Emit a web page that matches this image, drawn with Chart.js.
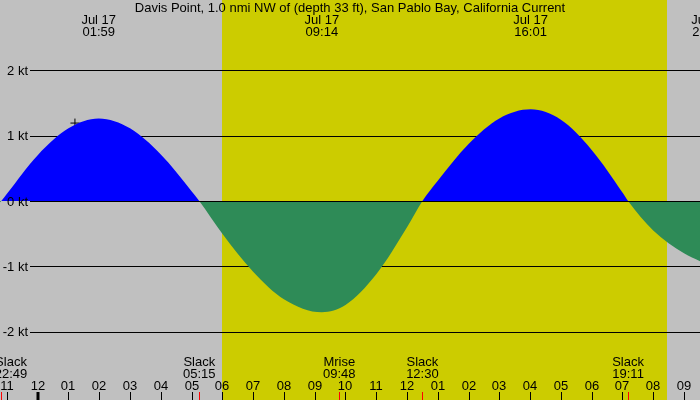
<!DOCTYPE html>
<html>
<head>
<meta charset="utf-8">
<script src="https://cdn.jsdelivr.net/npm/chart.js@4/dist/chart.umd.min.js"></script>
<style>
  body { margin: 0; background: #c0c0c0; }
  #chart { display: block; }
</style>
</head>
<body>
<canvas id="chart" width="700" height="400"></canvas>
<script>
const title = 'Davis Point, 1.0 nmi NW of (depth 33 ft), San Pablo Bay, California Current';

// current speed, hours after midnight Jul 17 -> knots (+ flood, - ebb)
const hours = [-1.225, -1.183, -1, 0, 1, 1.983, 3, 4, 5, 5.25, 6, 7, 8, 9.233, 10, 11, 12, 12.5,
               13, 14, 15, 16.017, 17, 18, 19, 19.183, 20, 21, 21.52];
const knots = [-0.02, 0, 0.11, 0.70, 1.11, 1.26, 1.11, 0.71, 0.15, 0, -0.50, -1.08, -1.50, -1.70,
               -1.59, -1.12, -0.40, 0, 0.31, 0.87, 1.26, 1.40, 1.24, 0.78, 0.13, 0, -0.45, -0.80, -0.92];

// max flood / max ebb labels at the top
const peakHours = [1.983, 9.233, 16.017, 21.8];
const peakLabels = ['01:59', '09:14', '16:01', '21:48'];
const peakDate = 'Jul 17';

// events at the bottom
const eventHours = [-1.183, 5.25, 9.8, 12.5, 19.183];
const eventNames = ['Slack', 'Slack', 'Mrise', 'Slack', 'Slack'];
const eventTimes = ['22:49', '05:15', '09:48', '12:30', '19:11'];

// hour ticks
const tickHours = [-1, 0, 1, 2, 3, 4, 5, 6, 7, 8, 9, 10, 11, 12, 13, 14, 15, 16, 17, 18, 19, 20, 21];
const tickLabels = ['11', '12', '01', '02', '03', '04', '05', '06', '07', '08', '09', '10',
                    '11', '12', '01', '02', '03', '04', '05', '06', '07', '08', '09'];

const yTicks = [2, 1, 0, -1, -2];
const sunrise = 6.0;
const sunset = 20.45;
const marker = [{ x: 1.21, y: 1.19 }];

const FONT = '13px "Liberation Sans", Arial, sans-serif';

const tidePlugin = {
    id: 'tide',
    beforeDraw(chart) {
        const { ctx, scales: { x } } = chart;
        ctx.save();
        ctx.fillStyle = '#c0c0c0';
        ctx.fillRect(0, 0, chart.width, chart.height);
        ctx.fillStyle = '#cccc00';
        const x0 = Math.round(x.getPixelForValue(sunrise));
        const x1 = Math.round(x.getPixelForValue(sunset));
        ctx.fillRect(x0, 0, x1 - x0, chart.height);
        ctx.restore();
    },
    beforeDatasetsDraw(chart) {
        const { ctx, scales: { y } } = chart;
        ctx.save();
        ctx.strokeStyle = '#000';
        ctx.lineWidth = 1;
        yTicks.forEach(v => {
            if (v === 0) return;
            const py = Math.round(y.getPixelForValue(v)) + 0.5;
            ctx.beginPath();
            ctx.moveTo(30, py);
            ctx.lineTo(chart.width, py);
            ctx.stroke();
        });
        ctx.restore();
    },
    afterDraw(chart) {
        const { ctx, scales: { x, y } } = chart;
        ctx.save();
        ctx.strokeStyle = '#000';
        ctx.lineWidth = 1;
        const p0 = Math.round(y.getPixelForValue(0)) + 0.5;
        ctx.beginPath();
        ctx.moveTo(30, p0);
        ctx.lineTo(chart.width, p0);
        ctx.stroke();

        ctx.font = FONT;
        ctx.fillStyle = '#000';
        ctx.textBaseline = 'middle';

        // y labels
        ctx.textAlign = 'right';
        yTicks.forEach(v => {
            ctx.fillText(v + ' kt', 28, y.getPixelForValue(v) + 1);
        });

        ctx.textAlign = 'center';
        ctx.fillText(title, 350, 8);

        peakHours.forEach((h, i) => {
            const px = x.getPixelForValue(h);
            ctx.fillText(peakDate, px, 20);
            ctx.fillText(peakLabels[i], px, 32);
        });

        eventHours.forEach((h, i) => {
            const px = Math.max(x.getPixelForValue(h), 11);
            ctx.fillText(eventNames[i], px, 362);
            ctx.fillText(eventTimes[i], px, 374);
        });

        tickHours.forEach((h, i) => {
            const px = Math.round(x.getPixelForValue(h));
            ctx.fillText(tickLabels[i], px, 386);
            ctx.beginPath();
            ctx.lineWidth = h === 0 ? 3 : 1;
            ctx.moveTo(px + (h === 0 ? 0 : 0.5), 392);
            ctx.lineTo(px + (h === 0 ? 0 : 0.5), 400);
            ctx.stroke();
        });

        ctx.strokeStyle = '#ff0000';
        ctx.lineWidth = 1;
        eventHours.forEach(h => {
            const px = Math.round(x.getPixelForValue(h)) + 0.5;
            ctx.beginPath();
            ctx.moveTo(px, 392);
            ctx.lineTo(px, 400);
            ctx.stroke();
        });
        ctx.restore();
    }
};

new Chart(document.getElementById('chart').getContext('2d'), {
    type: 'line',
    data: {
        datasets: [{
            data: hours.map((h, i) => ({ x: h, y: knots[i] })),
            borderWidth: 0,
            borderColor: 'rgba(0,0,0,0)',
            pointRadius: 0,
            cubicInterpolationMode: 'monotone',
            fill: { target: 'origin', above: '#0000ff', below: '#2e8b57' }
        }, {
            data: marker,
            showLine: false,
            pointStyle: 'cross',
            pointRadius: 4.5,
            borderColor: '#000',
            borderWidth: 1,
            fill: false
        }]
    },
    options: {
        responsive: false,
        animation: false,
        layout: { padding: 0, autoPadding: false },
        plugins: { legend: { display: false }, tooltip: { enabled: false } },
        scales: {
            x: { type: 'linear', min: -1.225, max: 21.52, display: false },
            y: { min: -3.04, max: 3.07, display: false }
        }
    },
    plugins: [tidePlugin]
});
</script>
</body>
</html>
